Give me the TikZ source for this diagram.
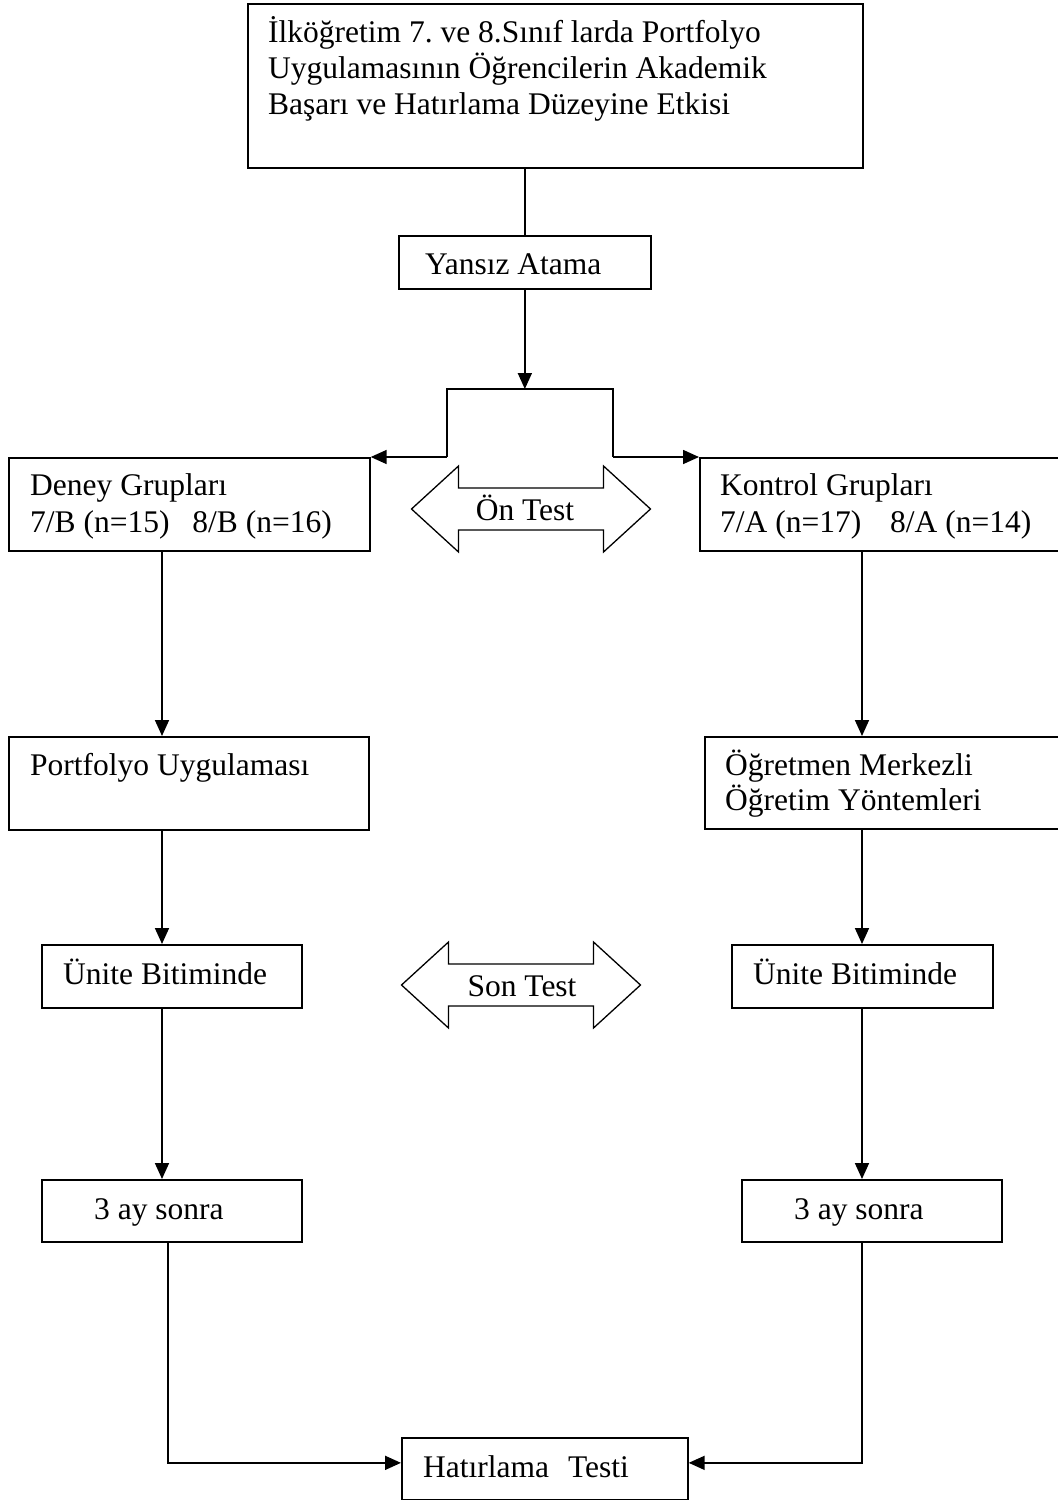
\documentclass[tikz,border=0pt]{standalone}
\usepackage{fontspec}
\setmainfont{Liberation Serif}
\frenchspacing
\usetikzlibrary{arrows.meta}
\tikzset{
  stage/.style={
    % The shape:
    rectangle,
    % The border:
    line width=1.7pt,
    draw=black,
    % The anchoring:
    anchor=north west,
    inner sep=0pt},
  caption/.style={
    % The text:
    anchor=base west,
    inner sep=0pt,
    font=\fontsize{31.5}{37}\selectfont},
  testarrow/.style={
    % The border:
    line width=1.3pt,
    draw=black,
    fill=white}
}

\begin{document}
\begin{tikzpicture}[x=1pt,y=-1pt,>={Triangle[length=16pt,width=14pt]},
                    link/.style={line width=1.7pt,draw=black},
                    tip/.style={link,->}]
  \useasboundingbox (0,0) rectangle (1058,1500);
  % columns of the branches
  \coordinate (lcol)  at (162,0);
  \coordinate (lcol2) at (168,0);
  \coordinate (rcol)  at (862,0);

  % boxes
  \node[stage,minimum width=615pt,minimum height=164pt] (title)   at (247,3)    {};
  \node[stage,minimum width=252pt,minimum height=53pt]  (yansiz)  at (398,235)  {};
  \node[stage,minimum width=361pt,minimum height=93pt]  (deney)   at (8,457)    {};
  \node[stage,minimum width=363pt,minimum height=93pt]  (kontrol) at (699,457)  {};
  \node[stage,minimum width=360pt,minimum height=93pt]  (portf)   at (8,736)    {};
  \node[stage,minimum width=358pt,minimum height=92pt]  (ogret)   at (704,736)  {};
  \node[stage,minimum width=260pt,minimum height=63pt]  (uniteL)  at (41,944)   {};
  \node[stage,minimum width=261pt,minimum height=63pt]  (uniteR)  at (731,944)  {};
  \node[stage,minimum width=260pt,minimum height=62pt]  (ayL)     at (41,1179)  {};
  \node[stage,minimum width=260pt,minimum height=62pt]  (ayR)     at (741,1179) {};
  \node[stage,minimum width=286pt,minimum height=62pt]  (hatir)   at (401,1437) {};

  % texts
  \node[caption] (title-1) at ([shift={(21,39)}]title.north west)  {İlköğretim 7. ve 8.Sınıf larda Portfolyo};
  \node[caption] (title-2) at ([shift={(21,75)}]title.north west)  {Uygulamasının Öğrencilerin Akademik};
  \node[caption] (title-3) at ([shift={(21,111)}]title.north west) {Başarı ve Hatırlama Düzeyine Etkisi};
  \node[caption] (yansiz-1) at ([shift={(27,39)}]yansiz.north west) {Yansız Atama};
  \node[caption] (deney-1) at ([shift={(22,38)}]deney.north west) {Deney Grupları};
  \node[caption] (deney-2) at ([shift={(22,75)}]deney.north west) {7/B (n=15)\hspace{15pt} 8/B (n=16)};
  \node[caption] (kontrol-1) at ([shift={(21,38)}]kontrol.north west) {Kontrol Grupları};
  \node[caption] (kontrol-2) at ([shift={(21,75)}]kontrol.north west) {7/A (n=17)\hspace{21pt} 8/A (n=14)};
  \node[caption] (portf-1) at ([shift={(22,39)}]portf.north west) {Portfolyo Uygulaması};
  \node[caption] (ogret-1) at ([shift={(21,39)}]ogret.north west) {Öğretmen Merkezli};
  \node[caption] (ogret-2) at ([shift={(21,74)}]ogret.north west) {Öğretim Yöntemleri};
  \node[caption] (uniteL-1) at ([shift={(22,40)}]uniteL.north west) {Ünite Bitiminde};
  \node[caption] (uniteR-1) at ([shift={(22,40)}]uniteR.north west) {Ünite Bitiminde};
  \node[caption] (ayL-1) at ([shift={(53,40)}]ayL.north west) {3 ay sonra};
  \node[caption] (ayR-1) at ([shift={(53,40)}]ayR.north west) {3 ay sonra};
  \node[caption] (hatir-1) at ([shift={(22,40)}]hatir.north west) {Hatırlama\hspace{11pt} Testi};

  % test arrows
  \foreach \cx/\cy/\tx/\lbl/\nm in {531/509/525/Ön Test/ontest, 521/985/522/Son Test/sontest}{
    \draw[testarrow] (\cx-119.5,\cy) -- (\cx-72.5,\cy-43) -- (\cx-72.5,\cy-21)
      -- (\cx+72.5,\cy-21) -- (\cx+72.5,\cy-43) -- (\cx+119.5,\cy)
      -- (\cx+72.5,\cy+43) -- (\cx+72.5,\cy+21) -- (\cx-72.5,\cy+21)
      -- (\cx-72.5,\cy+43) -- cycle;
    \node[caption,anchor=base] (\nm) at (\tx,\cy+11) {\lbl};
  }

  % connectors
  \coordinate (split) at (yansiz.south |- 0,389);
  \coordinate (brl) at (447,457);
  \coordinate (brr) at (613,457);
  \draw[link] (title.south -| yansiz.north) -- (yansiz.north);
  \draw[tip] (yansiz.south) -- (split);
  \draw[link] (brl) |- (split) -| (brr);
  \draw[tip] (brl) -- (deney.north east);
  \draw[tip] (brr) -- (kontrol.north west);

  \draw[tip] (deney.south -| lcol)  -- (portf.north -| lcol);
  \draw[tip] (portf.south -| lcol)  -- (uniteL.north -| lcol);
  \draw[tip] (uniteL.south -| lcol) -- (ayL.north -| lcol);
  \draw[tip] (ayL.south -| lcol2)   |- ([yshift=6pt]hatir.west);

  \draw[tip] (kontrol.south -| rcol) -- (ogret.north -| rcol);
  \draw[tip] (ogret.south -| rcol)   -- (uniteR.north -| rcol);
  \draw[tip] (uniteR.south -| rcol)  -- (ayR.north -| rcol);
  \draw[tip] (ayR.south -| rcol)     |- ([yshift=6pt]hatir.east);
\end{tikzpicture}
\end{document}
